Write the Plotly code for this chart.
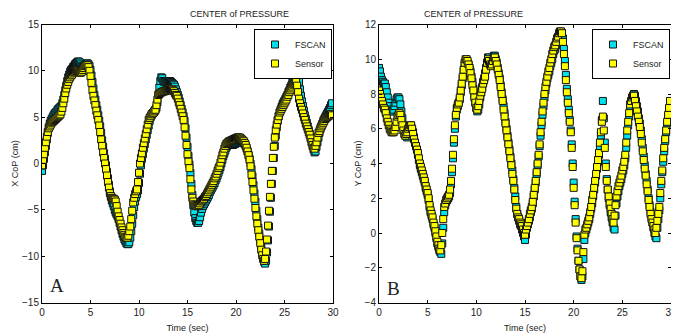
import plotly.graph_objects as go

# sample times (s), 10 Hz
time_s = [round(i * 0.1, 1) for i in range(300)]

# X centre of pressure (cm)
sensor_x = [
    -0.2, 0.4, 1.0, 1.7, 2.3, 2.9, 3.4, 3.8, 4.0, 4.2,
    4.4, 4.5, 4.6, 4.7, 4.8, 4.9, 5.0, 5.1, 5.2, 5.3,
    5.6, 6.0, 6.5, 7.0, 7.6, 8.1, 8.5, 8.8, 9.1, 9.3,
    9.5, 9.6, 9.8, 9.9, 10.0, 10.1, 10.1, 10.0, 9.9, 9.8,
    9.8, 9.9, 10.1, 10.3, 10.5, 10.6, 10.6, 10.6, 10.4, 10.0,
    9.4, 8.7, 7.9, 7.3, 6.8, 6.3, 5.7, 5.2, 4.7, 4.1,
    3.4, 2.6, 1.9, 1.2, 0.6, 0.0, -0.6, -1.3, -2.0, -2.6,
    -3.2, -3.5, -3.7, -3.8, -3.8, -3.9, -4.1, -4.6, -5.2, -5.7,
    -6.1, -6.5, -6.9, -7.2, -7.5, -7.7, -7.9, -8.0, -8.0, -7.8,
    -7.3, -6.8, -6.0, -5.1, -4.2, -3.7, -3.3, -3.0, -2.8, -2.0,
    -1.0, 0.0, 0.6, 1.1, 1.7, 2.2, 2.7, 3.2, 3.7, 4.2,
    4.7, 4.9, 5.1, 5.3, 5.4, 5.5, 5.7, 5.8, 6.3, 6.9,
    7.4, 7.5, 7.6, 7.7, 7.7, 7.8, 7.8, 7.8, 7.9, 7.9,
    7.9, 8.0, 8.0, 8.0, 8.0, 7.9, 7.8, 7.6, 7.4, 7.3,
    7.0, 6.6, 6.3, 5.9, 5.5, 5.1, 4.7, 3.9, 3.0, 2.0,
    1.0, 0.2, -0.5, -1.7, -2.8, -3.7, -4.1, -4.4, -4.5, -4.6,
    -4.6, -4.5, -4.5, -4.3, -4.1, -4.0, -3.9, -3.8, -3.6, -3.5,
    -3.3, -3.1, -2.9, -2.7, -2.5, -2.3, -2.1, -1.9, -1.6, -1.4,
    -1.1, -0.8, -0.5, -0.3, 0.1, 0.5, 0.9, 1.2, 1.6, 1.9,
    2.1, 2.2, 2.3, 2.4, 2.4, 2.5, 2.5, 2.6, 2.6, 2.7,
    2.7, 2.8, 2.8, 2.8, 2.8, 2.7, 2.6, 2.5, 2.4, 2.2,
    2.0, 1.7, 1.3, 0.9, 0.4, -0.3, -1.2, -2.0, -2.9, -3.8,
    -4.8, -5.7, -6.5, -7.2, -7.9, -8.6, -9.3, -9.9, -10.3, -10.5,
    -10.3, -9.5, -8.2, -6.7, -5.1, -3.6, -2.2, -0.8, 0.6, 1.8,
    2.8, 3.6, 4.2, 4.7, 5.1, 5.5, 5.7, 5.9, 6.1, 6.3,
    6.5, 6.7, 6.9, 7.2, 7.4, 7.7, 7.9, 8.1, 8.3, 8.5,
    8.6, 8.7, 8.8, 8.4, 7.7, 7.0, 6.5, 6.1, 5.8, 5.4,
    5.0, 4.7, 4.3, 4.0, 3.7, 3.4, 3.1, 2.7, 2.3, 2.0,
    1.7, 1.6, 1.9, 2.3, 2.8, 3.3, 3.5, 3.8, 4.0, 4.2,
    4.4, 4.6, 4.8, 4.9, 5.0, 5.1, 5.2, 5.3, 5.3, 5.2,
]

fscan_x = [
    -0.8, -0.2, 0.5, 1.2, 1.9, 2.6, 3.3, 3.9, 4.3, 4.6,
    4.8, 5.0, 5.2, 5.4, 5.5, 5.6, 5.8, 5.9, 6.0, 6.1,
    6.2, 6.5, 6.9, 7.4, 7.9, 8.4, 8.9, 9.3, 9.6, 9.9,
    10.1, 10.2, 10.4, 10.5, 10.7, 10.8, 10.9, 11.0, 11.0, 10.9,
    10.7, 10.5, 10.4, 10.5, 10.6, 10.7, 10.8, 10.8, 10.7, 10.5,
    10.1, 9.5, 8.8, 8.1, 7.4, 6.9, 6.3, 5.8, 5.2, 4.6,
    4.0, 3.3, 2.5, 1.8, 1.1, 0.5, -0.2, -0.9, -1.6, -2.3,
    -3.0, -3.6, -4.0, -4.3, -4.6, -5.0, -5.3, -5.5, -5.7, -6.0,
    -6.4, -6.8, -7.2, -7.6, -7.9, -8.2, -8.4, -8.6, -8.7, -8.7,
    -8.5, -8.0, -7.3, -6.5, -5.6, -4.7, -4.1, -3.6, -3.3, -2.9,
    -2.1, -1.1, -0.2, 0.5, 1.0, 1.6, 2.1, 2.6, 3.1, 3.6,
    4.1, 4.6, 5.0, 5.2, 5.4, 5.5, 5.6, 5.8, 6.0, 6.6,
    7.4, 8.2, 8.9, 9.3, 9.2, 8.9, 8.8, 8.8, 8.8, 8.9,
    8.9, 8.9, 8.9, 8.8, 8.7, 8.6, 8.5, 8.3, 8.0, 7.7,
    7.4, 7.1, 6.7, 6.3, 5.9, 5.5, 5.1, 4.6, 3.8, 2.8,
    1.8, 0.8, -0.1, -1.0, -2.2, -3.4, -4.5, -5.3, -5.9, -6.2,
    -6.4, -6.4, -6.2, -5.8, -5.3, -4.9, -4.6, -4.4, -4.2, -4.0,
    -3.8, -3.6, -3.4, -3.1, -2.9, -2.7, -2.5, -2.3, -2.1, -1.8,
    -1.6, -1.3, -1.0, -0.7, -0.4, 0.0, 0.4, 0.8, 1.1, 1.4,
    1.7, 1.9, 2.0, 2.0, 2.0, 2.0, 2.0, 2.0, 2.1, 2.1,
    2.2, 2.3, 2.4, 2.5, 2.5, 2.5, 2.4, 2.3, 2.2, 2.1,
    1.9, 1.6, 1.3, 0.9, 0.5, 0.0, -0.6, -1.4, -2.3, -3.2,
    -4.1, -5.1, -6.0, -6.9, -7.6, -8.3, -9.0, -9.6, -10.2, -10.6,
    -10.8, -10.5, -9.6, -8.3, -6.8, -5.2, -3.7, -2.2, -0.8, 0.6,
    1.9, 3.0, 3.9, 4.6, 5.1, 5.5, 5.8, 6.1, 6.4, 6.6,
    6.8, 7.0, 7.2, 7.4, 7.7, 7.9, 8.2, 8.4, 8.7, 8.9,
    9.2, 9.4, 9.6, 9.7, 9.4, 8.8, 8.0, 7.3, 6.7, 6.2,
    5.7, 5.2, 4.8, 4.4, 4.0, 3.6, 3.2, 2.8, 2.3, 1.9,
    1.5, 1.2, 1.3, 1.8, 2.3, 2.8, 3.3, 3.7, 4.0, 4.3,
    4.6, 4.8, 5.0, 5.2, 5.4, 5.6, 5.8, 6.0, 6.3, 6.5,
]

# Y centre of pressure (cm)
sensor_y = [
    8.2, 8.0, 7.8, 7.6, 7.4, 7.2, 7.1, 6.9, 6.6, 6.4,
    6.2, 6.0, 5.9, 5.8, 5.8, 5.8, 5.9, 6.1, 6.4, 6.7,
    6.8, 6.9, 6.8, 6.5, 6.2, 5.9, 5.7, 5.6, 5.7, 5.8,
    6.0, 6.1, 6.2, 6.2, 6.0, 5.7, 5.4, 5.2, 5.0, 4.8,
    4.6, 4.3, 4.0, 3.8, 3.6, 3.4, 3.2, 3.0, 2.7, 2.5,
    2.3, 2.0, 1.6, 1.3, 1.1, 0.9, 0.6, 0.4, 0.1, -0.2,
    -0.5, -0.7, -0.9, -1.0, -0.7, 0.0, 0.8, 1.5, 1.7, 1.9,
    2.0, 2.1, 2.2, 2.5, 3.0, 3.7, 4.5, 5.4, 6.2, 6.8,
    7.2, 7.4, 7.5, 7.8, 8.2, 8.6, 9.0, 9.4, 9.8, 10.0,
    10.0, 9.9, 9.7, 9.5, 9.2, 8.9, 8.5, 8.2, 7.8, 7.5,
    7.2, 7.1, 7.3, 7.6, 7.9, 8.1, 8.3, 8.6, 8.8, 9.0,
    9.4, 9.8, 10.0, 9.9, 9.7, 9.6, 9.7, 9.9, 10.1, 10.1,
    9.9, 9.7, 9.4, 9.1, 8.8, 8.4, 8.0, 7.6, 7.1, 6.7,
    6.3, 5.9, 5.5, 5.1, 4.7, 4.3, 3.9, 3.4, 3.0, 2.5,
    1.9, 1.4, 1.1, 0.9, 0.8, 0.6, 0.5, 0.4, 0.2, 0.0,
    -0.1, 0.2, 0.4, 0.6, 0.8, 1.1, 1.3, 1.5, 1.8, 2.2,
    2.6, 3.0, 3.5, 4.0, 4.5, 5.1, 5.8, 6.4, 7.0, 7.5,
    8.0, 8.4, 8.7, 9.0, 9.3, 9.5, 9.8, 10.0, 10.3, 10.5,
    10.7, 10.8, 11.0, 11.2, 11.3, 11.5, 11.6, 11.6, 11.5, 11.0,
    10.3, 9.6, 8.8, 8.1, 7.5, 6.9, 6.4, 5.8, 4.9, 3.8,
    2.6, 1.6, 0.6, -0.3, -1.0, -1.6, -2.1, -2.5, -2.6, -2.2,
    -1.1, -0.1, 0.2, 0.3, 0.5, 0.7, 0.9, 1.2, 1.5, 1.9,
    2.2, 2.6, 3.0, 3.4, 3.8, 4.2, 4.6, 5.2, 5.8, 6.4,
    6.7, 5.9, 4.9, 3.8, 3.0, 2.5, 2.1, 1.7, 1.4, 1.1,
    0.8, 0.6, 1.0, 1.6, 2.1, 2.4, 2.7, 2.9, 3.1, 3.3,
    3.6, 3.8, 4.1, 4.5, 5.2, 5.9, 6.4, 6.9, 7.4, 7.6,
    7.8, 7.9, 7.9, 7.6, 7.3, 7.0, 6.7, 6.4, 6.1, 5.7,
    5.2, 4.7, 4.2, 3.7, 3.3, 2.8, 2.4, 1.9, 1.5, 1.1,
    0.8, 0.6, 0.4, 0.2, 0.0, 0.3, 0.7, 1.1, 1.5, 2.3,
    3.0, 3.6, 4.3, 4.9, 5.4, 5.9, 6.4, 6.8, 7.2, 7.6,
]

fscan_y = [
    9.5, 9.3, 9.0, 8.8, 8.7, 8.6, 8.6, 8.4, 8.1, 7.8,
    7.5, 7.3, 7.1, 7.0, 7.0, 7.1, 7.3, 7.5, 7.7, 7.8,
    7.8, 7.7, 7.4, 7.0, 6.6, 6.2, 5.9, 5.7, 5.6, 5.5,
    5.6, 5.8, 6.0, 6.1, 6.0, 5.8, 5.5, 5.2, 5.0, 4.8,
    4.5, 4.2, 3.9, 3.7, 3.5, 3.3, 3.1, 2.9, 2.6, 2.4,
    2.2, 1.9, 1.5, 1.2, 1.0, 0.8, 0.5, 0.3, 0.0, -0.3,
    -0.6, -0.8, -1.0, -1.1, -1.2, -0.6, 0.3, 1.2, 1.6, 1.8,
    1.9, 2.0, 2.1, 2.3, 2.8, 3.5, 4.3, 5.2, 6.0, 6.7,
    7.1, 7.3, 7.5, 7.7, 8.1, 8.5, 8.9, 9.3, 9.7, 9.9,
    9.9, 9.8, 9.7, 9.5, 9.3, 9.0, 8.7, 8.3, 7.9, 7.5,
    7.2, 7.0, 7.1, 7.4, 7.8, 8.1, 8.4, 8.7, 8.9, 9.2,
    9.5, 9.8, 10.1, 10.1, 9.9, 9.7, 9.7, 10.0, 10.2, 10.2,
    10.0, 9.8, 9.5, 9.2, 8.9, 8.5, 8.1, 7.7, 7.3, 6.9,
    6.4, 6.0, 5.6, 5.2, 4.8, 4.4, 4.0, 3.6, 3.1, 2.6,
    2.1, 1.5, 1.1, 0.9, 0.7, 0.5, 0.4, 0.2, 0.0, -0.2,
    -0.4, -0.1, 0.3, 0.5, 0.7, 0.9, 1.2, 1.4, 1.7, 2.1,
    2.5, 2.9, 3.4, 3.9, 4.4, 5.0, 5.6, 6.2, 6.8, 7.3,
    7.8, 8.2, 8.6, 8.9, 9.1, 9.3, 9.6, 9.8, 10.0, 10.3,
    10.5, 10.6, 10.8, 11.0, 11.2, 11.3, 11.5, 11.5, 11.5, 11.2,
    10.6, 9.9, 9.1, 8.3, 7.7, 7.1, 6.5, 5.9, 5.1, 4.0,
    2.9, 1.8, 0.8, -0.2, -0.9, -1.6, -2.1, -2.5, -2.7, -2.5,
    -1.5, -0.4, 0.0, 0.2, 0.4, 0.6, 0.8, 1.1, 1.4, 1.7,
    2.1, 2.5, 2.9, 3.3, 3.7, 4.1, 4.5, 5.0, 5.6, 6.5,
    7.6, 6.6, 5.2, 4.0, 3.1, 2.5, 2.0, 1.6, 1.2, 0.9,
    0.6, 0.3, 0.2, 1.0, 1.7, 2.1, 2.4, 2.7, 2.9, 3.1,
    3.4, 3.6, 3.9, 4.3, 4.9, 5.6, 6.2, 6.7, 7.2, 7.5,
    7.7, 7.9, 8.0, 7.9, 7.6, 7.3, 7.0, 6.6, 6.3, 5.9,
    5.4, 4.9, 4.4, 3.9, 3.4, 3.0, 2.5, 2.0, 1.6, 1.2,
    0.9, 0.6, 0.3, 0.0, -0.2, -0.3, 0.3, 0.8, 1.3, 2.0,
    2.8, 3.5, 4.1, 4.7, 5.3, 5.8, 6.3, 6.7, 7.1, 7.5,
]

x_ticks = [0, 5, 10, 15, 20, 25, 30]
left_y_ticks = [-15, -10, -5, 0, 5, 10, 15]
right_y_ticks = [-4, -2, 0, 2, 4, 6, 8, 10, 12]

FONT = "Liberation Sans, Arial, sans-serif"
CYAN = "#00e3ec"
YELLOW = "#ffff00"

fig = go.Figure()


def add_series(x, y, name, color, xa, ya, legend):
    fig.add_trace(go.Scatter(
        x=x, y=y, mode="markers", name=name,
        xaxis=xa, yaxis=ya, legend=legend, showlegend=True,
        marker=dict(symbol="square", size=7, color=color,
                    line=dict(color="#111111", width=1)),
    ))


add_series(time_s, fscan_x, "FSCAN", CYAN, "x", "y", "legend")
add_series(time_s, sensor_x, "Sensor", YELLOW, "x", "y", "legend")
add_series(time_s, fscan_y, "FSCAN", CYAN, "x2", "y2", "legend2")
add_series(time_s, sensor_y, "Sensor", YELLOW, "x2", "y2", "legend2")

# the page body adds an 8 px margin around the figure
OFF = 8
W, H = 679 - OFF, 335 - OFF


def px(p):
    return (p - OFF) / W


def py(p):
    return 1 - (p - OFF) / H


lx0, lx1 = px(42), px(333)
rx0, rx1 = px(379), px(671)
y0, y1 = py(302.5), py(24.5)

tick_font = dict(family=FONT, size=10, color="#222")
label_font = dict(family=FONT, size=9, color="#222")
axis_common = dict(
    showline=True, linecolor="black", linewidth=1, mirror="ticks",
    ticks="inside", ticklen=3, tickcolor="black", showgrid=False,
    zeroline=False, tickfont=tick_font, title_font=label_font,
    automargin=False,
)

legend_common = dict(
    bgcolor="white", bordercolor="black", borderwidth=1,
    font=label_font, itemwidth=30, tracegroupgap=0,
    xanchor="right", yanchor="top",
)

fig.update_layout(
    width=W, height=H,
    margin=dict(l=0, r=0, t=0, b=0),
    paper_bgcolor="white", plot_bgcolor="white",
    xaxis=dict(domain=[lx0, lx1], anchor="y", range=[0, 30], tickvals=x_ticks,
               title=dict(text="Time (sec)", standoff=8), **axis_common),
    yaxis=dict(domain=[y0, y1], anchor="x", range=[-15, 15], tickvals=left_y_ticks,
               title=dict(text="X CoP (cm)", standoff=1), **axis_common),
    xaxis2=dict(domain=[rx0, rx1], anchor="y2", range=[0, 30], tickvals=x_ticks,
                title=dict(text="Time (sec)", standoff=8), **axis_common),
    yaxis2=dict(domain=[y0, y1], anchor="x2", range=[-4, 12], tickvals=right_y_ticks,
                title=dict(text="Y CoP (cm)", standoff=1), **axis_common),
    legend=dict(x=px(332), y=py(29), **legend_common),
    legend2=dict(x=px(670), y=py(29), **legend_common),
    showlegend=True,
)

for cx in [(lx0 + lx1) / 2, (rx0 + rx1) / 2]:
    fig.add_annotation(text="CENTER of PRESSURE", x=cx, y=py(13.5),
                       xref="paper", yref="paper", yanchor="middle",
                       showarrow=False, font=label_font)
letter_font = dict(family="Liberation Serif, Times New Roman, serif", size=19, color="#222")
fig.add_annotation(text="A", x=1.55, y=-13.2, xref="x", yref="y",
                   showarrow=False, font=letter_font)
fig.add_annotation(text="B", x=1.45, y=-3.2, xref="x2", yref="y2",
                   showarrow=False, font=letter_font)

fig.write_html("out.html")
